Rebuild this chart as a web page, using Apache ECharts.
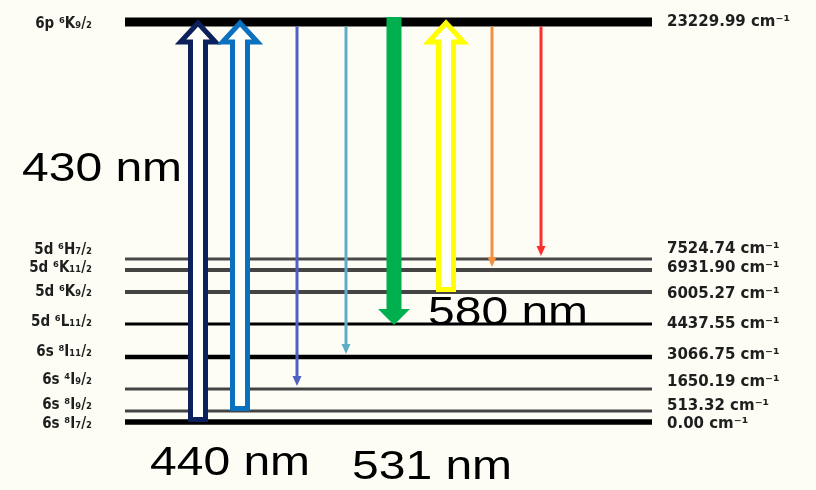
<!DOCTYPE html>
<html>
<head>
<meta charset="utf-8">
<script src="https://cdn.jsdelivr.net/npm/echarts@6/dist/echarts.min.js"></script>
<style>
  html, body { margin: 0; padding: 0; background: #fdfdf6; }
  #levels { width: 816px; height: 490px; }
</style>
</head>
<body>
<div id="levels"></div>
<script>
// energy levels, bottom to top
var energies = [0.00, 513.32, 1650.19, 3066.75, 4437.55, 6005.27, 6931.90, 7524.74, 23229.99];
var stateLabels = ['6s ⁸I₇/₂', '6s ⁸I₉/₂', '6s ⁴I₉/₂', '6s ⁸I₁₁/₂', '5d ⁶L₁₁/₂',
                   '5d ⁶K₉/₂', '5d ⁶K₁₁/₂', '5d ⁶H₇/₂', '6p ⁶K₉/₂'];
// schematic height of each level on the diagram (not to scale)
var levelHeight = [0, 11, 33, 65, 98, 130, 152, 163, 400];
// where the level names sit (left) and the energies sit (right)
var leftLabelHeight  = [-2, 17, 42, 70, 100, 130, 154, 172, 398];
var rightLabelHeight = [-2, 16, 40, 67, 98, 128, 154, 173, 400];

// transitions: column, start level, end level
var arrowX    = [73, 115, 172, 221, 269, 321, 367, 416];
var arrowFrom = [0, 1, 8, 8, 8, 5, 8, 8];
var arrowTo   = [8, 8, 2, 3, 4, 8, 6, 7];
var arrowKind = ['hollow', 'hollow', 'thin', 'thin', 'thick', 'hollow', 'thin', 'thin'];
var arrowColor = ['#0c215c', '#0a70c0', '#4d62c4', '#5eaec8', '#00b04f', '#ffff00', '#f39040', '#ff2e2e'];

// wavelength notes
var noteText = ['430 nm', '440 nm', '531 nm', '580 nm'];
var noteX = [22, 150, 352, 428];
var noteY = [170, 464, 468, 314];

var levelWidth = [5.5, 3, 3, 4.5, 3, 4, 4, 3, 9];
var levelColor = ['#000', '#444', '#444', '#000', '#000', '#444', '#444', '#484848', '#000'];

var myChart = echarts.init(document.getElementById('levels'));

function renderLevel(params, api) {
  var i = api.value(0);
  var cs = params.coordSys;
  var y = api.coord([0, api.value(1)])[1];
  var yl = api.coord([0, api.value(2)])[1];
  var yr = api.coord([0, api.value(3)])[1];
  var t = levelWidth[i];
  return {
    type: 'group',
    children: [
      { type: 'rect', shape: { x: cs.x, y: y - t / 2, width: cs.width, height: t },
        style: { fill: levelColor[i] } },
      { type: 'text', x: 92, y: yl,
        style: { text: stateLabels[i], align: 'right', verticalAlign: 'middle',
                 font: 'bold 15px "DejaVu Sans Condensed"', fill: '#1e1e1e' } },
      { type: 'text', x: cs.x + cs.width + 15, y: yr,
        style: { text: energies[i].toFixed(2) + ' cm⁻¹', align: 'left', verticalAlign: 'middle',
                 font: 'bold 15px "DejaVu Sans"', fill: '#1e1e1e' } }
    ]
  };
}

function renderArrow(params, api) {
  var i = params.dataIndex;
  var p0 = api.coord([api.value(0), api.value(1)]);
  var p1 = api.coord([api.value(0), api.value(2)]);
  var x = p0[0];
  var c = arrowColor[i];
  var kind = arrowKind[i];
  if (kind === 'hollow') {
    var bottom = p0[1] - 2.5, tip = p1[1] + 1;
    var sw = 7.5, hw = 17.5, base = tip + 19;
    return {
      type: 'polygon',
      shape: { points: [[x - sw, bottom], [x - sw, base], [x - hw, base], [x, tip],
                        [x + hw, base], [x + sw, base], [x + sw, bottom]] },
      style: { fill: '#fffffc', stroke: c, lineWidth: 5, lineJoin: 'miter' }
    };
  }
  if (kind === 'thick') {
    var top = p0[1] - 5, tipY = p1[1] + 1, hb = tipY - 16;
    return {
      type: 'polygon',
      shape: { points: [[x - 7.5, top], [x + 7.5, top], [x + 7.5, hb], [x + 16, hb],
                        [x, tipY], [x - 16, hb], [x - 7.5, hb]] },
      style: { fill: c }
    };
  }
  var y0 = p0[1] + 4.5, y1 = p1[1] - 3, hbase = y1 - 10;
  return {
    type: 'group',
    children: [
      { type: 'line', shape: { x1: x, y1: y0, x2: x, y2: hbase + 1 },
        style: { stroke: c, lineWidth: 3 } },
      { type: 'polygon', shape: { points: [[x - 4.5, hbase], [x + 4.5, hbase], [x, y1]] },
        style: { fill: c } }
    ]
  };
}

var options = {
  backgroundColor: '#fdfdf6',
  animation: false,
  grid: { left: 125, right: 164, top: 22, bottom: 68 },
  xAxis: { type: 'value', min: 0, max: 527, show: false },
  yAxis: { type: 'value', min: 0, max: 400, show: false },
  graphic: noteText.map(function (t, i) {
    return {
      type: 'text', x: noteX[i], y: noteY[i], scaleX: 1.2, z: 100,
      style: { text: t, font: '40px "Liberation Sans"', fill: '#000', verticalAlign: 'middle' }
    };
  }),
  series: [
    {
      type: 'custom',
      renderItem: renderLevel,
      silent: true,
      z: 2,
      data: levelHeight.map(function (h, i) {
        return [i, h, leftLabelHeight[i], rightLabelHeight[i]];
      })
    },
    {
      type: 'custom',
      renderItem: renderArrow,
      silent: true,
      z: 3,
      data: arrowX.map(function (x, i) {
        return [x, levelHeight[arrowFrom[i]], levelHeight[arrowTo[i]]];
      })
    }
  ]
};

myChart.setOption(options);
</script>
</body>
</html>
